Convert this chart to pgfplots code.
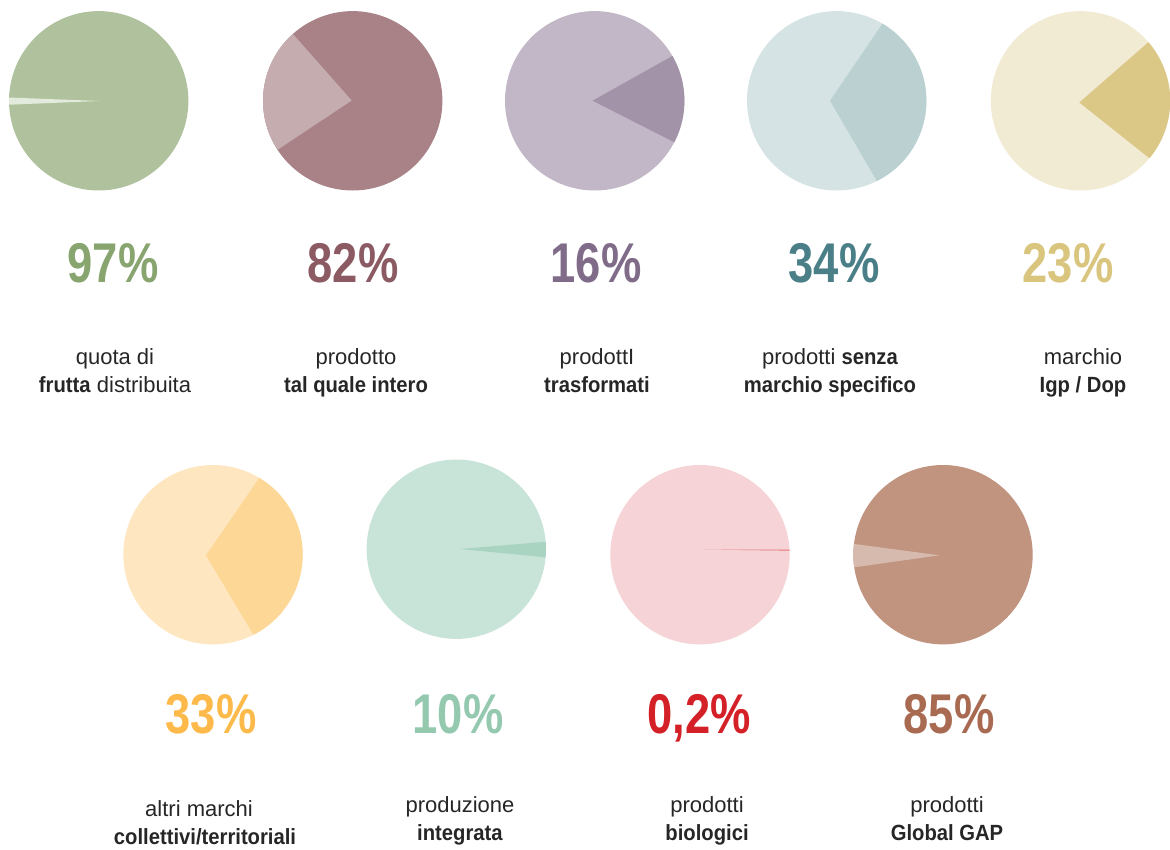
\documentclass[border=0pt]{standalone}
\usepackage{pgfplots}
\pgfplotsset{compat=1.18}
\usepackage{fontspec}
\setmainfont{Liberation Sans}[BoldFeatures={FakeStretch=0.92}]
\newfontfamily\numfont{Liberation Sans}[FakeStretch=0.81]
\definecolor{lab}{HTML}{262626}
\definecolor{bgA}{HTML}{B0C29D}\definecolor{fgA}{HTML}{E3EBDC}\definecolor{tA}{HTML}{88A570}
\definecolor{bgB}{HTML}{A88287}\definecolor{fgB}{HTML}{C5ACAF}\definecolor{tB}{HTML}{8B5A62}
\definecolor{bgC}{HTML}{C2B7C6}\definecolor{fgC}{HTML}{A393A8}\definecolor{tC}{HTML}{806B88}
\definecolor{bgD}{HTML}{D6E3E4}\definecolor{fgD}{HTML}{BAD0D1}\definecolor{tD}{HTML}{4A7F88}
\definecolor{bgE}{HTML}{F2EBD4}\definecolor{fgE}{HTML}{DBC887}\definecolor{tE}{HTML}{D9C57E}
\definecolor{bgF}{HTML}{FEE6C0}\definecolor{fgF}{HTML}{FDD796}\definecolor{tF}{HTML}{FDB94A}
\definecolor{bgG}{HTML}{C8E3D7}\definecolor{fgG}{HTML}{AAD4C2}\definecolor{tG}{HTML}{94C9B0}
\definecolor{bgH}{HTML}{F5D3D6}\definecolor{fgH}{HTML}{E57373}\definecolor{tH}{HTML}{D42027}
\definecolor{bgI}{HTML}{C19480}\definecolor{fgI}{HTML}{D7BAAE}\definecolor{tI}{HTML}{A86B52}
% pie: cx, cy, r, start angle, end angle, base colour, slice colour, apex x, apex y
\newcommand{\pie}[9]{%
  \addplot[fill=#6, draw=none, domain=0:360, samples=145] ({#1+#3*cos(x)},{#2-#3*sin(x)}) -- cycle;
  \addplot[fill=#7, draw=none, domain=#4:#5, samples=40] ({#1+#3*cos(x)},{#2-#3*sin(x)}) -- (axis cs:#8,#9) -- cycle;
}
\newcommand{\pct}[4]{\node[anchor=base, text=#4, font=\numfont\bfseries\fontsize{56}{56}\selectfont, inner sep=0pt] at (axis cs:#1,#2) {#3};}
\newcommand{\lbl}[3]{\node[anchor=base, text=lab, font=\fontsize{22}{22}\selectfont, inner sep=0pt] at (axis cs:#1,#2) {#3};}
\begin{document}
\begin{tikzpicture}
\begin{axis}[
  hide axis, scale only axis, width=1170pt, height=849pt,
  xmin=0, xmax=1170, ymin=0, ymax=849, y dir=reverse,
  no markers, clip=true]
\pie{98.7}{100.8}{89.7}{177.9}{182.5}{bgA}{fgA}{99}{101}
\pie{352.7}{100.8}{89.7}{131.8}{213.1}{bgB}{fgB}{351.7}{100.5}
\pie{594.7}{100.8}{89.7}{-27.5}{30}{bgC}{fgC}{592.5}{100.7}
\pie{836.7}{100.8}{89.7}{-63.4}{59.3}{bgD}{fgD}{830}{100.7}
\pie{1080.5}{100.8}{89.7}{-39.8}{40.8}{bgE}{fgE}{1079.3}{102.5}
\pie{213}{554.7}{89.7}{-63.2}{58.9}{bgF}{fgF}{206}{555.3}
\pie{456.3}{549.2}{89.7}{-5.2}{4.8}{bgG}{fgG}{460}{549}
\pie{700}{554.7}{89.7}{2.6}{3.3}{bgH}{fgH}{703}{549.5}
\pie{943}{554.7}{89.7}{173.1}{188.1}{bgI}{fgI}{939.3}{555.3}
\pct{113}{282}{97\%}{tA}
\pct{353}{282}{82\%}{tB}
\pct{596}{282}{16\%}{tC}
\pct{834}{282}{34\%}{tD}
\pct{1068}{282}{23\%}{tE}
\pct{211}{733}{33\%}{tF}
\pct{458}{733}{10\%}{tG}
\pct{699}{733}{0,2\%}{tH}
\pct{949}{733}{85\%}{tI}
\lbl{115}{364}{quota di}
\lbl{115}{392}{\textbf{frutta} distribuita}
\lbl{356}{364}{prodotto}
\lbl{356}{392}{\textbf{tal quale intero}}
\lbl{597}{364}{prodottI}
\lbl{597}{392}{\textbf{trasformati}}
\lbl{830}{364}{prodotti \textbf{senza}}
\lbl{830}{392}{\textbf{marchio specifico}}
\lbl{1083}{364}{marchio}
\lbl{1083}{392}{\textbf{Igp / Dop}}
\lbl{199}{816}{altri marchi}
\lbl{205}{844}{\textbf{collettivi/territoriali}}
\lbl{460}{812}{produzione}
\lbl{460}{840}{\textbf{integrata}}
\lbl{707}{812}{prodotti}
\lbl{707}{840}{\textbf{biologici}}
\lbl{947}{812}{prodotti}
\lbl{947}{840}{\textbf{Global GAP}}
\end{axis}
\pgfresetboundingbox
\useasboundingbox (current axis.south west) rectangle (current axis.north east);
\end{tikzpicture}
\end{document}
